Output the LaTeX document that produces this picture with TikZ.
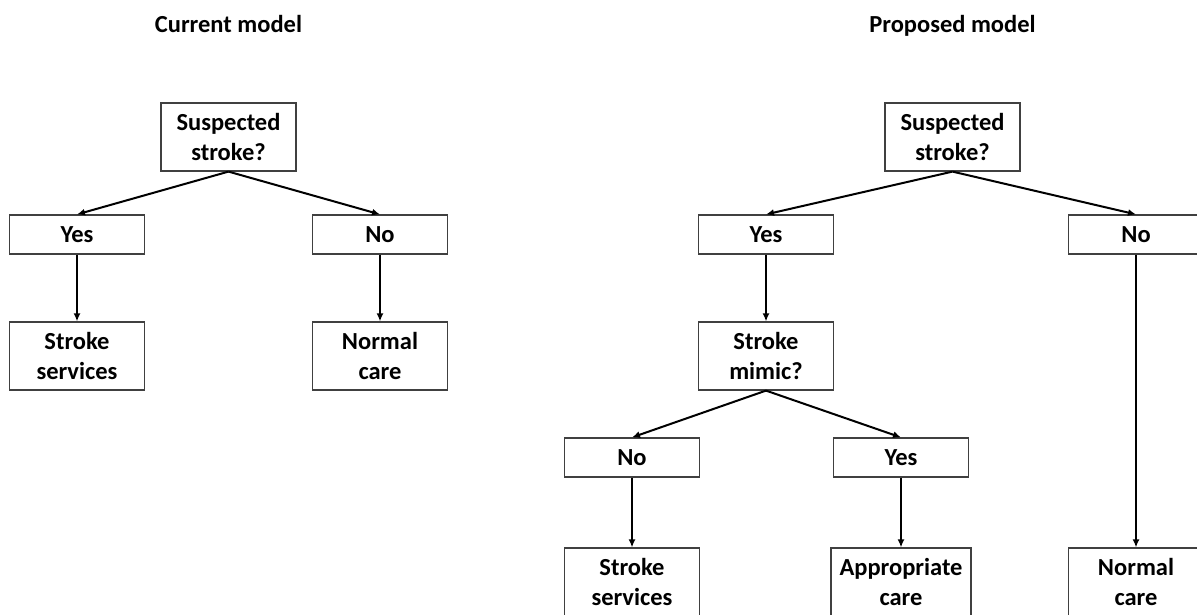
\documentclass[tikz,border=0pt]{standalone}
\usepackage{fontspec}
\setmainfont{Carlito}
\usetikzlibrary{arrows.meta}
\begin{document}
\begin{tikzpicture}[x=1pt,y=-1pt,
  every node/.style={font=\fontsize{24.5}{29.5}\selectfont\bfseries, align=center, inner sep=0pt},
  box/.style={draw=black!75, line width=1.2pt, minimum width=135pt},
  tallbox/.style={box, minimum height=68pt},
  flatbox/.style={box, minimum height=39pt},
  heading/.style={anchor=base},
  link/.style={line width=2pt, -{Latex[length=8pt,width=7pt]}}]
  \useasboundingbox (0,0) rectangle (1197,614);
  \clip (0,0) rectangle (1197,614);

  % Current model
  \node[heading] (lt) at (228.5,32) {Current model};
  \node[tallbox] (ls) at (228.5,137) {Suspected\\stroke?};
  \node[flatbox] (lyes) at (77,234.5) {Yes};
  \node[flatbox] (lno) at (380,234.5) {No};
  \node[tallbox] (lss) at (77,356) {Stroke\\services};
  \node[tallbox] (lnc) at (380,356) {Normal\\care};
  \draw[link] (ls.south) -- (lyes.north);
  \draw[link] (ls.south) -- (lno.north);
  \draw[link] (lyes.south) -- (lss.north);
  \draw[link] (lno.south) -- (lnc.north);

  % Proposed model
  \node[heading] (rt) at (952.5,32) {Proposed model};
  \node[tallbox] (rs) at (952.5,137) {Suspected\\stroke?};
  \node[flatbox] (ryes) at (766,234.5) {Yes};
  \node[flatbox] (rno) at (1136,234.5) {No};
  \node[tallbox] (rm) at (766,356) {Stroke\\mimic?};
  \node[flatbox] (rmno) at (632,457.5) {No};
  \node[flatbox] (rmyes) at (901,457.5) {Yes};
  \node[tallbox] (rss) at (632,582) {Stroke\\services};
  \node[tallbox, minimum width=140pt] (rac) at (901,582) {Appropriate\\care};
  \node[tallbox] (rnc) at (1136,582) {Normal\\care};
  \draw[link] (rs.south) -- (ryes.north);
  \draw[link] (rs.south) -- (rno.north);
  \draw[link] (ryes.south) -- (rm.north);
  \draw[link] (rm.south) -- (rmno.north);
  \draw[link] (rm.south) -- (rmyes.north);
  \draw[link] (rmno.south) -- (rss.north);
  \draw[link] (rmyes.south) -- (rac.north);
  \draw[link] (rno.south) -- (rnc.north);
\end{tikzpicture}
\end{document}
